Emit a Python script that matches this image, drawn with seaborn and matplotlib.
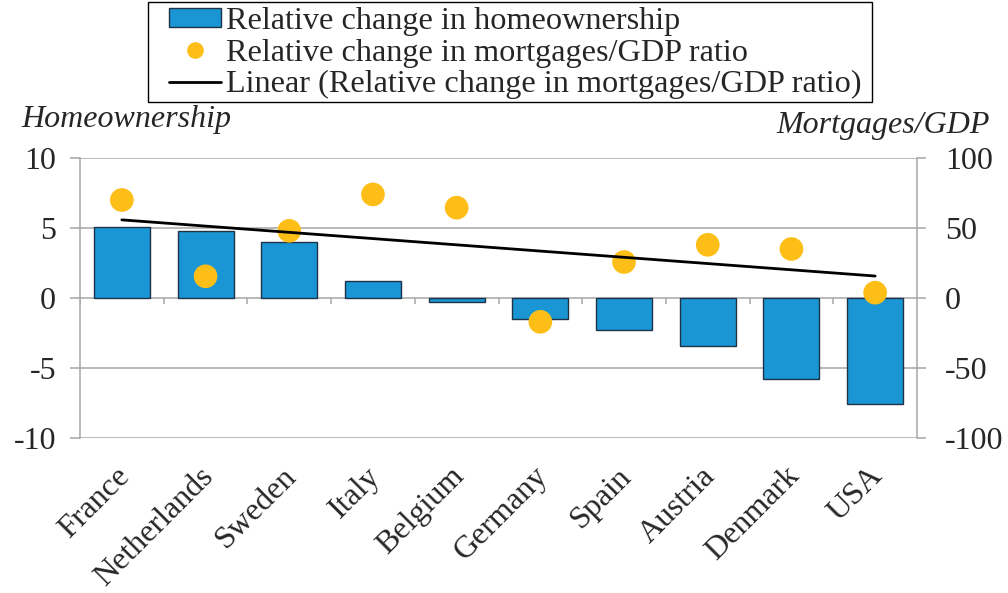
import numpy as np
import pandas as pd
import matplotlib
matplotlib.use("Agg")
import matplotlib.pyplot as plt
import matplotlib.transforms as mtransforms
from matplotlib.patches import Patch, Rectangle
from matplotlib.lines import Line2D
import seaborn as sns

countries = ["France", "Netherlands", "Sweden", "Italy", "Belgium",
             "Germany", "Spain", "Austria", "Denmark", "USA"]
homeownership = [5.1, 4.8, 4.0, 1.2, -0.3, -1.5, -2.3, -3.4, -5.8, -7.6]
mortgages_gdp = [70, 15.5, 48, 74, 64.5, -17, 25.7, 38, 35, 3.8]
left_ticks = [-10, -5, 0, 5, 10]
right_ticks = [-100, -50, 0, 50, 100]

BAR = "#1A96D4"
DOT = "#FDBF17"
GRID = "#A6A6A6"

sns.set_style("white")
plt.rcParams["font.family"] = ["Liberation Serif", "DejaVu Serif"]
FS = 23
FSL = 23.2

fig = plt.figure(figsize=(10.08, 5.93), dpi=100)
ax = fig.add_axes([80/1008, 1-438/593, (917-80)/1008, (438-158)/593])

df = pd.DataFrame({"country": countries, "home": homeownership,
                   "mort": mortgages_gdp, "idx": np.arange(len(countries))})

sns.barplot(data=df, x="country", y="home", color=BAR, saturation=1,
            width=0.67, edgecolor="#1F3347", linewidth=1.0, ax=ax, zorder=3)
ax.set_ylim(-10, 10)
ax.set_xlim(-0.5, len(countries) - 0.5)
ax.set_yticks(left_ticks)
ax.set_yticklabels([str(t) for t in left_ticks], fontsize=FS)
ax.yaxis.grid(True, color=GRID, linewidth=1.1, zorder=0)
ax.set_axisbelow(True)
for s in ["top", "bottom", "right"]:
    ax.spines[s].set_visible(False)
ax.spines["left"].set_color(GRID)
ax.spines["left"].set_linewidth(1.1)
ax.tick_params(axis="y", direction="out", length=7.2, width=1.1, color=GRID, pad=10)
ax.tick_params(axis="x", length=0, pad=17)
ax.set_xlabel("")
ax.set_ylabel("")
ax.set_xticks(range(len(countries)))
ax.set_xticklabels(countries, rotation=45, ha="right", rotation_mode="anchor", fontsize=FS)
shift = mtransforms.ScaledTranslation(-7/100, 0, fig.dpi_scale_trans)
for lab in ax.get_xticklabels():
    lab.set_transform(lab.get_transform() + shift)
# category boundary ticks on the zero line
bounds = np.arange(0.5, len(countries) - 0.5, 1.0)
ax.vlines(np.concatenate([[-0.5], bounds]), 0, -0.45, color=GRID, linewidth=1.1, zorder=2)

ax2 = ax.twinx()
sns.scatterplot(data=df, x="idx", y="mort", color=DOT, s=290, edgecolor="none",
                ax=ax2, zorder=4, legend=False)
sns.regplot(data=df, x="idx", y="mort", scatter=False, ci=None, truncate=True,
            line_kws={"color": "black", "linewidth": 2.0, "zorder": 5}, ax=ax2)
ax2.set_ylim(-100, 100)
ax2.set_xlim(-0.5, len(countries) - 0.5)
ax2.set_yticks(right_ticks)
ax2.set_yticklabels([str(t) for t in right_ticks], fontsize=FS)
ax2.set_xlabel("")
ax2.set_ylabel("")
for s in ["top", "bottom", "left"]:
    ax2.spines[s].set_visible(False)
ax2.spines["right"].set_color(GRID)
ax2.spines["right"].set_linewidth(1.1)
ax2.tick_params(axis="y", direction="out", length=6.5, width=1.1, color=GRID, pad=13.5)

fig.text(21/1008, 1-120/593, "Homeownership", fontsize=FS, style="italic",
         ha="left", va="center")
fig.text(990/1008, 1-126/593, "Mortgages/GDP", fontsize=FS, style="italic",
         ha="right", va="center")

# legend frame
fig.patches.append(Rectangle((148/1008, 1-102/593), (872-148)/1008, 100/593,
                             transform=fig.transFigure, facecolor="white",
                             edgecolor="black", linewidth=1.0, zorder=0))
handles = [Patch(facecolor=BAR, edgecolor="#1F3347", linewidth=1.0),
           Line2D([], [], marker="o", linestyle="none", markersize=12,
                  markerfacecolor=DOT, markeredgecolor="none"),
           Line2D([], [], color="black", linewidth=2.0)]
labels = ["Relative change in homeownership",
          "Relative change in mortgages/GDP ratio",
          "Linear (Relative change in mortgages/GDP ratio)"]
leg = fig.legend(handles, labels, loc="upper left",
                 bbox_to_anchor=(169/1008, 1-7/593), fontsize=FSL,
                 frameon=False, borderpad=0, labelspacing=0.08,
                 handlelength=1.6, handleheight=0.52, handletextpad=0.18,
                 borderaxespad=0)

fig.savefig("out.png", dpi=100, facecolor="white")
